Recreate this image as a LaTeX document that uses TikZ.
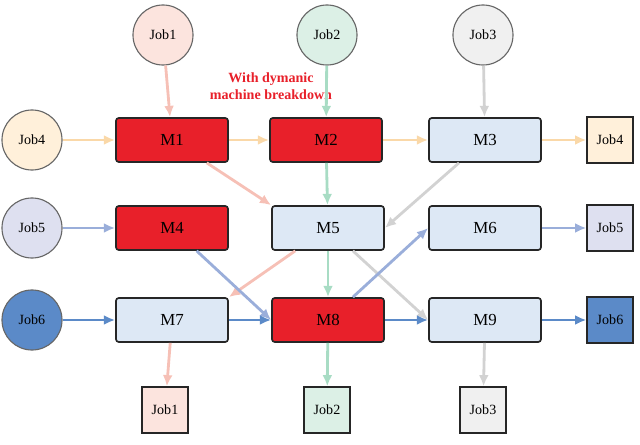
\documentclass[tikz,border=0pt]{standalone}
\usepackage{fontspec}
\setmainfont{Liberation Serif}
\usetikzlibrary{arrows.meta}
\definecolor{brk}{HTML}{E8202A}
\definecolor{mach}{HTML}{DDE8F5}
\definecolor{cj1}{HTML}{FCE4DE}\definecolor{aj1}{HTML}{F6C0B6}
\definecolor{cj2}{HTML}{DCF0E6}\definecolor{aj2}{HTML}{A8DCC4}
\definecolor{cj3}{HTML}{F0F0F0}\definecolor{aj3}{HTML}{D2D2D2}
\definecolor{cj4}{HTML}{FFF0DA}\definecolor{aj4}{HTML}{FAD8A8}
\definecolor{cj5}{HTML}{DEE0F0}\definecolor{aj5}{HTML}{9AAEDA}
\definecolor{cj6}{HTML}{5B8AC8}\definecolor{aj6}{HTML}{5B8AC8}
\tikzset{
	mc/.style={draw=black!85,line width=1.2pt,rounded corners=2pt,fill=mach,minimum width=2.8cm,minimum height=1.1cm,font=\large},
	jin/.style={circle,draw=black!60,line width=0.8pt,minimum size=1.5cm,font=\normalsize},
	jout/.style={draw=black!85,line width=0.9pt,minimum size=1.15cm,font=\normalsize},
	fl/.style={line width=2pt,-{Latex[length=8pt,width=7pt]},draw=#1}
}
\begin{document}
\begin{tikzpicture}[x=0.025cm,y=-0.025cm]
	\useasboundingbox (0,0) rectangle (640,445);
	%input jobs
	\node[jin,fill=cj1] (i1) at (163,35) {Job1};
	\node[jin,fill=cj2] (i2) at (327,35) {Job2};
	\node[jin,fill=cj3] (i3) at (483,35) {Job3};
	\node[jin,fill=cj4] (i4) at (32,140) {Job4};
	\node[jin,fill=cj5] (i5) at (32,228) {Job5};
	\node[jin,fill=cj6] (i6) at (32,320) {Job6};
	%machines
	\node[mc,fill=brk] (m1) at (172,140) {M1};
	\node[mc,fill=brk] (m2) at (326,140) {M2};
	\node[mc] (m3) at (485,140) {M3};
	\node[mc,fill=brk] (m4) at (172,228) {M4};
	\node[mc] (m5) at (328,228) {M5};
	\node[mc] (m6) at (485,228) {M6};
	\node[mc] (m7) at (172,320) {M7};
	\node[mc,fill=brk] (m8) at (328,320) {M8};
	\node[mc] (m9) at (485,320) {M9};
	%output jobs
	\node[jout,fill=cj4] (o4) at (610,140) {Job4};
	\node[jout,fill=cj5] (o5) at (610,228) {Job5};
	\node[jout,fill=cj6] (o6) at (610,320) {Job6};
	\node[jout,fill=cj1] (o1) at (165,410) {Job1};
	\node[jout,fill=cj2] (o2) at (327,410) {Job2};
	\node[jout,fill=cj3] (o3) at (483,410) {Job3};
	\node[text=brk,font=\bfseries,align=center] (txt) at (271,86) {With dymanic\\machine breakdown};
	%routes
	\draw[fl=aj1] (i1)--(m1); \draw[fl=aj1] (m1)--(m5.north west); \draw[fl=aj1] (m5)--(m7.north east); \draw[fl=aj1] (m7)--(o1);
	\draw[fl=aj2] (i2)--(m2); \draw[fl=aj2] (m2)--(m5); \draw[fl=aj2] (m5)--(m8); \draw[fl=aj2] (m8)--(o2);
	\draw[fl=aj3] (i3)--(m3); \draw[fl=aj3] (m3)--(m5.east); \draw[fl=aj3] (m5)--(m9.west); \draw[fl=aj3] (m9)--(o3);
	\draw[fl=aj4] (i4)--(m1); \draw[fl=aj4] (m1)--(m2); \draw[fl=aj4] (m2)--(m3); \draw[fl=aj4] (m3)--(o4);
	\draw[fl=aj5] (i5)--(m4); \draw[fl=aj5] (m4)--(m8.west); \draw[fl=aj5] (m8)--(m6.west); \draw[fl=aj5] (m6)--(o5);
	\draw[fl=aj6] (i6)--(m7); \draw[fl=aj6] (m7)--(m8); \draw[fl=aj6] (m8)--(m9); \draw[fl=aj6] (m9)--(o6);
\end{tikzpicture}
\end{document}
